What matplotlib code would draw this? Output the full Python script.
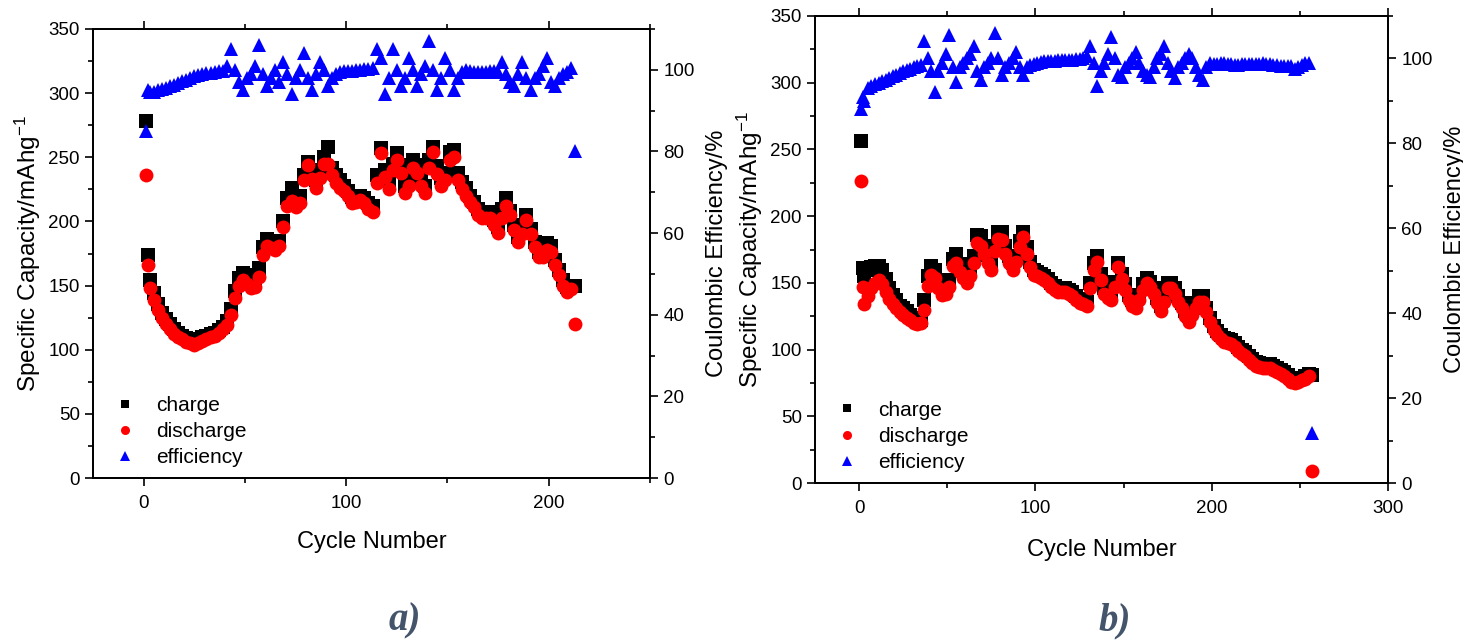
import numpy as np
import matplotlib
matplotlib.use("Agg")
import matplotlib.pyplot as plt
from matplotlib.ticker import MultipleLocator

plt.rcParams['font.family'] = ['Liberation Sans', 'DejaVu Sans']
plt.rcParams['mathtext.default'] = 'regular'
plt.rcParams['axes.unicode_minus'] = False

# ---- panel a data (cycle, charge, discharge, efficiency) ----
cycles_a = [1, 2, 3] + list(range(5, 214, 2))
charge_a = [278, 174, 154, 144, 136, 129, 124, 120, 116, 113, 111, 109, 108, 107, 108, 110, 111, 112, 113, 115,
            118, 122, 132, 146, 156, 160, 158, 153, 153, 164, 180, 186, 185, 182, 185, 200, 218, 226, 220, 220,
            236, 246, 240, 232, 238, 250, 258, 242, 236, 232, 228, 224, 219, 219, 220, 218, 214, 212, 236, 257,
            240, 232, 245, 253, 244, 228, 233, 248, 244, 234, 228, 248, 258, 243, 234, 238, 254, 256, 238, 231,
            226, 220, 215, 210, 207, 207, 207, 201, 196, 210, 218, 208, 197, 188, 195, 205, 194, 184, 176, 176,
            183, 181, 170, 162, 154, 149, 150, 150]
discharge_a = [236, 166, 148, 139, 131, 125, 120, 116, 112, 110, 108, 106, 105, 104, 105, 107, 108, 110, 111, 113,
               116, 119, 127, 140, 150, 154, 151, 148, 149, 157, 174, 181, 179, 178, 181, 196, 212, 216, 211, 214,
               232, 244, 233, 226, 234, 245, 245, 236, 230, 226, 224, 220, 214, 215, 217, 214, 210, 207, 230, 253,
               235, 225, 240, 248, 238, 222, 228, 242, 238, 228, 222, 242, 254, 237, 228, 232, 248, 250, 232, 225,
               220, 215, 211, 205, 203, 203, 203, 197, 191, 203, 212, 205, 193, 184, 190, 201, 190, 180, 172, 172,
               178, 176, 166, 158, 150, 145, 147, 120]
efficiency_a = [85, 95, 94.5, 94.6, 95, 95.3, 95.6, 96, 96.4, 96.8, 97.2, 97.6, 98, 98.4, 98.8, 99, 99.2, 99.3, 99.4, 99.6,
                99.8, 101, 105, 100, 97, 95, 98, 99, 101, 106, 99, 96, 98, 100, 97, 102, 99, 94, 98, 100,
                104, 98, 95, 99, 102, 100, 96, 98, 99, 99.5, 99.6, 99.8, 99.8, 100, 100, 100.2, 100.3, 100.4, 105, 103,
                94, 98, 105, 100, 96, 98, 103, 100, 96, 99, 101, 107, 100, 95, 98, 103, 100, 95, 98, 99.5,
                100, 99.6, 99.5, 99.4, 99.5, 99.5, 99.6, 99.6, 99.4, 102, 99, 97, 96, 99, 102, 98, 95, 98, 99, 101,
                103, 97, 96, 98, 99, 99.5, 100.5, 80]

# ---- panel b data ----
cycles_b = [1, 2, 3] + list(range(5, 258, 2))
charge_b = [256, 161, 155, 160, 162, 163, 163, 160, 153, 146, 141, 137, 133, 131, 129, 126, 124, 122, 122, 137,
            155, 163, 160, 152, 147, 147, 152, 168, 172, 164, 160, 156, 160, 170, 186, 185, 178, 171, 166, 178,
            188, 188, 178, 170, 165, 170, 181, 188, 177, 166, 160, 158, 157, 155, 153, 150, 148, 146, 146, 146,
            145, 143, 140, 138, 137, 136, 150, 165, 170, 157, 146, 143, 141, 151, 165, 157, 149, 141, 137, 135,
            141, 149, 154, 151, 146, 139, 133, 140, 150, 150, 146, 140, 135, 129, 125, 130, 135, 140, 140, 131,
            124, 118, 114, 111, 109, 108, 107, 105, 102, 100, 98, 95, 93, 91, 90, 89, 89, 89, 88, 86,
            85, 83, 81, 79, 78, 78, 79, 80, 82, 81]
discharge_b = [226, 147, 134, 140, 146, 150, 152, 149, 143, 138, 134, 131, 128, 126, 124, 122, 120, 119, 120, 130,
               148, 156, 154, 146, 141, 142, 147, 163, 165, 158, 154, 150, 155, 165, 180, 178, 172, 165, 160, 174,
               183, 182, 172, 165, 160, 166, 177, 184, 172, 162, 156, 155, 154, 152, 150, 147, 145, 143, 143, 143,
               142, 140, 137, 135, 134, 133, 146, 160, 166, 152, 142, 139, 137, 147, 162, 153, 145, 137, 133, 131,
               137, 145, 150, 147, 142, 135, 129, 136, 146, 146, 142, 136, 131, 125, 121, 126, 131, 136, 136, 128,
               121, 115, 111, 108, 106, 105, 104, 102, 99, 97, 95, 92, 90, 88, 87, 86, 86, 86, 85, 83,
               82, 80, 78, 76, 75, 76, 77, 78, 80, 9]
efficiency_b = [88, 91, 90, 93, 93.5, 94, 94.3, 94.6, 95, 95.4, 95.8, 96.2, 96.6, 97, 97.3, 97.6, 97.9, 98.2, 98.5, 104,
                100, 97, 92, 97, 99, 101, 105.5, 98, 94.5, 98, 99, 100, 101, 103, 97, 95, 98, 99, 100, 106,
                100, 96, 98, 99, 100, 101.5, 98, 96, 98, 98.5, 98.8, 99, 99.2, 99.3, 99.4, 99.5, 99.5, 99.6, 99.6, 99.6,
                99.7, 99.7, 99.8, 99.8, 100, 100.5, 103, 99, 93.5, 97, 99, 101, 105, 100, 96, 95.6, 98, 99, 100, 101.5,
                99, 97, 96, 95.6, 98, 100, 101, 103, 99, 97, 95.5, 98, 99, 100, 101, 100, 98, 96, 95, 98,
                99, 98.8, 98.8, 99, 99, 98.8, 98.6, 98.5, 98.5, 98.6, 98.6, 98.6, 98.7, 98.7, 98.8, 99, 98.8, 98.6, 98.5, 98.4,
                98.3, 98.3, 98.2, 98.2, 97.6, 98, 98.5, 99, 99, 11.8]

fig = plt.figure(figsize=(14.63, 6.4), dpi=100)


def panel(rect, cyc, chg, dis, eff, xlim, xmajor, legend_anchor, xlabelpad):
    ax = fig.add_axes(rect)
    ax2 = ax.twinx()
    l1, = ax.plot(cyc, chg, 's', color='black', ms=9.5, mew=0, label='charge')
    l2, = ax.plot(cyc, dis, 'o', color='red', ms=10, mew=0, label='discharge')
    l3, = ax2.plot(cyc, eff, '^', color='blue', ms=10, mew=0, label='efficiency')
    ax.set_xlim(*xlim)
    ax.set_ylim(0, 350)
    ax2.set_ylim(0, 110)
    ax.xaxis.set_major_locator(MultipleLocator(xmajor))
    ax.xaxis.set_minor_locator(MultipleLocator(xmajor / 2))
    ax.yaxis.set_major_locator(MultipleLocator(50))
    ax.yaxis.set_minor_locator(MultipleLocator(25))
    ax2.yaxis.set_major_locator(MultipleLocator(20))
    ax2.yaxis.set_minor_locator(MultipleLocator(10))
    for a in (ax, ax2):
        a.tick_params(which='major', length=6, width=1.2, labelsize=13.5, direction='out')
        a.tick_params(which='minor', length=3.5, width=1.2, direction='out')
        for s in a.spines.values():
            s.set_linewidth(1.3)
    ax.tick_params(axis='x', which='both', top=True)
    ax.tick_params(axis='x', which='major', pad=6)
    ax.set_xlabel('Cycle Number', fontsize=17, labelpad=xlabelpad)
    ax.set_ylabel('Specific Capacity/mAhg$^{-1}$', fontsize=17.5, labelpad=4)
    ax2.set_ylabel('Coulombic Efficiency/%', fontsize=17, labelpad=8)
    ax2.legend(handles=[l1, l2, l3], loc='lower left', bbox_to_anchor=legend_anchor,
               frameon=False, fontsize=15, markerscale=0.65, handlelength=1.2,
               handletextpad=0.9, labelspacing=0.35, borderaxespad=0)
    return ax


panel([0.0636, 0.2531, 0.3807, 0.7016], cycles_a, charge_a, discharge_a, efficiency_a,
      (-25, 250), 100, (0.02, 0.005), 14)
panel([0.5571, 0.2453, 0.3917, 0.7297], cycles_b, charge_b, discharge_b, efficiency_b,
      (-25, 300), 100, (0.02, 0.005), 16)

fig.text(0.277, 0.015, 'a)', fontsize=28, fontweight='bold', style='italic',
         family='Liberation Serif', color='#44546A', ha='center')
fig.text(0.762, 0.015, 'b)', fontsize=28, fontweight='bold', style='italic',
         family='Liberation Serif', color='#44546A', ha='center')

fig.savefig('out.png', dpi=100)
